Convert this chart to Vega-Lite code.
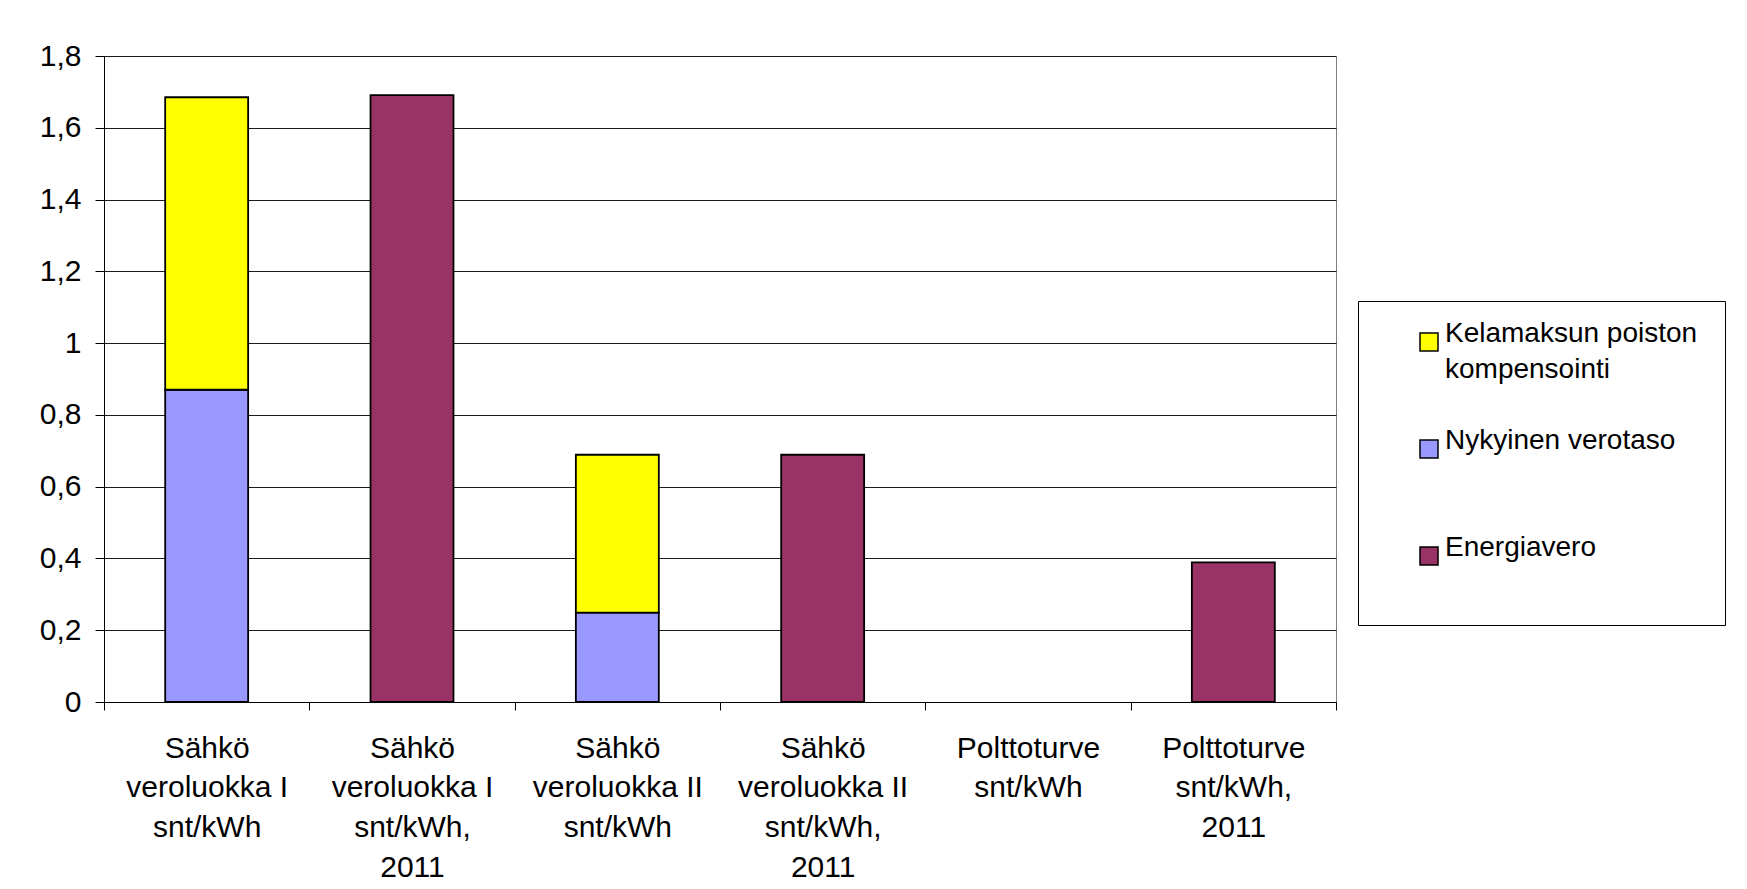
{
  "$schema": "https://vega.github.io/schema/vega-lite/v6.json",
  "width": 1232,
  "height": 646,
  "autosize": {"type": "none"},
  "padding": {"left": 104, "top": 56, "right": 411, "bottom": 187},
  "background": "white",
  "config": {
    "font": "Liberation Sans",
    "view": {"stroke": "#808080", "strokeWidth": 1}
  },
  "data": {
    "values": [
      {"category": "Sähkö|veroluokka I|snt/kWh", "series": "Nykyinen verotaso", "value": 0.870},
      {"category": "Sähkö|veroluokka I|snt/kWh", "series": "Kelamaksun poiston kompensointi", "value": 0.815},
      {"category": "Sähkö|veroluokka I|snt/kWh,|2011", "series": "Energiavero", "value": 1.691},
      {"category": "Sähkö|veroluokka II|snt/kWh", "series": "Nykyinen verotaso", "value": 0.249},
      {"category": "Sähkö|veroluokka II|snt/kWh", "series": "Kelamaksun poiston kompensointi", "value": 0.440},
      {"category": "Sähkö|veroluokka II|snt/kWh,|2011", "series": "Energiavero", "value": 0.689},
      {"category": "Polttoturve|snt/kWh,|2011", "series": "Energiavero", "value": 0.389}
    ]
  },
  "mark": {"type": "bar", "stroke": "#000000", "strokeWidth": 1.8, "width": {"band": 0.404}},
  "encoding": {
    "x": {
      "field": "category",
      "type": "nominal",
      "sort": null,
      "scale": {
        "domain": [
          "Sähkö|veroluokka I|snt/kWh",
          "Sähkö|veroluokka I|snt/kWh,|2011",
          "Sähkö|veroluokka II|snt/kWh",
          "Sähkö|veroluokka II|snt/kWh,|2011",
          "Polttoturve|snt/kWh",
          "Polttoturve|snt/kWh,|2011"
        ],
        "paddingInner": 0,
        "paddingOuter": 0
      },
      "axis": {
        "title": null,
        "labelAngle": 0,
        "labelExpr": "split(datum.label, '|')",
        "labelFontSize": 30,
        "labelColor": "#000000",
        "labelLineHeight": 39.7,
        "labelBaseline": "top",
        "labelPadding": 23,
        "labelLimit": 400,
        "tickBand": "extent",
        "tickSize": 8,
        "tickColor": "#000000",
        "domainColor": "#000000",
        "grid": false
      }
    },
    "y": {
      "field": "value",
      "type": "quantitative",
      "stack": "zero",
      "scale": {"domain": [0, 1.8], "nice": false},
      "axis": {
        "title": null,
        "values": [0, 0.2, 0.4, 0.6, 0.8, 1, 1.2, 1.4, 1.6, 1.8],
        "labelExpr": "replace(format(datum.value, '.1~f'), '.', ',')",
        "labelFontSize": 30,
        "labelColor": "#000000",
        "labelPadding": 14,
        "tickSize": 9,
        "tickColor": "#000000",
        "domainColor": "#000000",
        "gridColor": "#1a1a1a",
        "gridWidth": 1
      }
    },
    "color": {
      "field": "series",
      "type": "nominal",
      "scale": {
        "domain": ["Kelamaksun poiston kompensointi", "Nykyinen verotaso", "Energiavero"],
        "range": ["#FFFF00", "#9999FF", "#993366"]
      },
      "legend": {
        "title": null,
        "orient": "none",
        "legendX": 1254,
        "legendY": 245,
        "strokeColor": "#000000",
        "padding": 27,
        "labelExpr": "datum.label == 'Kelamaksun poiston kompensointi' ? ['Kelamaksun poiston\u00a0\u00a0\u00a0\u00a0\u00a0\u00a0', 'kompensointi'] : [datum.label, '']",
        "labelFontSize": 28,
        "labelColor": "#000000",
        "labelBaseline": "alphabetic",
        "labelLimit": 500,
        "labelOffset": 2,
        "symbolOffset": 30,
        "symbolType": "square",
        "symbolSize": 324,
        "symbolStrokeColor": "#000000",
        "symbolStrokeWidth": 1.5,
        "symbolOpacity": 1,
        "rowPadding": 43,
        "encode": {
          "labels": {"update": {"lineHeight": {"value": 36}}}
        }
      }
    },
    "order": {"field": "series", "sort": "descending"}
  }
}
